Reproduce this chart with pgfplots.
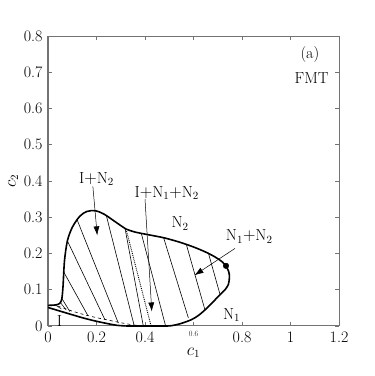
\documentclass[border=0pt]{standalone}
\usepackage{pgfplots}
\pgfplotsset{compat=1.18}
\usetikzlibrary{arrows.meta}
\definecolor{axgray}{gray}{0.45}
\begin{document}
\fontsize{16}{19}\selectfont
\begin{tikzpicture}[font=\fontsize{16}{19}\selectfont]
\begin{axis}[
    scale only axis,
    width=291pt, height=290pt,
    xmin=0, xmax=1.2, ymin=0, ymax=0.8,
    xtick={0,0.2,0.4,0.6,0.8,1,1.2},
    xticklabels={0,0.2,0.4,{\scalebox{0.5}{0.6}},0.8,1,1.2},
    ytick={0,0.1,0.2,0.3,0.4,0.5,0.6,0.7,0.8},
    yticklabels={0,0.1,0.2,0.3,0.4,0.5,0.6,0.7,0.8},
    tick label style={font=\fontsize{16}{19}\selectfont},
    label style={font=\fontsize{16}{19}\selectfont},
    tick align=inside,
    major tick length=4pt,
    axis line style={axgray, line width=1pt},
    tick style={axgray, line width=0.6pt},
    xlabel={$c_1$}, ylabel={$c_2$},
    xlabel style={at={(axis description cs:0.5,-0.093)}, anchor=center},
    ylabel style={at={(axis description cs:-0.12,0.5)}, anchor=center},
    unbounded coords=jump,
    clip=false,
]
% tie lines
\addplot[black, line width=0.6pt] coordinates {
    (0.058,0.075) (0.090,0.040) (nan,nan)
    (0.064,0.150) (0.165,0.028) (nan,nan)
    (0.082,0.232) (0.235,0.017) (nan,nan)
    (0.120,0.293) (0.290,0.008) (nan,nan)
    (0.240,0.306) (0.355,0.002) (nan,nan)
    (0.318,0.268) (0.393,0.000) (nan,nan)
    (0.385,0.255) (0.485,0.000) (nan,nan)
    (0.476,0.245) (0.579,0.022) (nan,nan)
    (0.570,0.226) (0.647,0.045) (nan,nan)
    (0.661,0.202) (0.709,0.088)
};
% short lines near the corner
\addplot[black, line width=0.5pt] coordinates {
    (0.030,0.058) (0.055,0.047) (nan,nan)
    (0.052,0.064) (0.075,0.044)
};
% dotted line
\addplot[black, densely dotted, line width=0.9pt] coordinates {
    (0.324,0.262) (0.425,0.000)
};
% dashed line
\addplot[black, dashed, line width=0.6pt] coordinates {
    (0.040,0.055) (0.100,0.041) (0.150,0.031) (0.200,0.023)
    (0.250,0.016) (0.300,0.009) (0.350,0.003) (0.393,0.000)
};
% outer boundary
\addplot[black, line width=1.6pt, smooth, tension=0.5] coordinates {
    (0,0.057) (0.030,0.058) (0.048,0.062) (0.057,0.075) (0.062,0.110)
    (0.068,0.180) (0.080,0.235) (0.100,0.272) (0.130,0.302) (0.160,0.316)
    (0.195,0.318) (0.230,0.309) (0.270,0.291) (0.300,0.277) (0.320,0.268)
    (0.360,0.259) (0.420,0.251) (0.480,0.243) (0.544,0.231) (0.600,0.218)
    (0.650,0.204) (0.690,0.190) (0.720,0.176) (0.737,0.162) (0.746,0.148)
    (0.748,0.134) (0.744,0.115) (0.730,0.100) (0.710,0.087) (0.680,0.066)
    (0.650,0.046) (0.620,0.029) (0.590,0.017) (0.544,0.006) (0.510,0.001)
    (0.490,0.000)
};
\addplot[black, line width=1.6pt, smooth, tension=0.5] coordinates {
    (0,0.051) (0.050,0.041) (0.100,0.031) (0.146,0.022) (0.200,0.013)
    (0.250,0.006) (0.283,0.002) (0.320,0.000)
};
\addplot[black, line width=1.6pt] coordinates {(0.320,0.000) (0.490,0.000)};
% critical point
\addplot[black, only marks, mark=*, mark size=2.8pt] coordinates {(0.734,0.166)};

% labels and arrows
\node at (axis cs:0.200,0.405) {I$+$N$_2$};
\draw[-{Latex[length=9pt,width=6pt]}, line width=0.5pt] (axis cs:0.185,0.385) -- (axis cs:0.203,0.250);
\node at (axis cs:0.490,0.367) {I$+$N$_1$$+$N$_2$};
\draw[-{Latex[length=9pt,width=6pt]}, line width=0.5pt] (axis cs:0.400,0.350) -- (axis cs:0.428,0.040);
\node at (axis cs:0.545,0.283) {N$_2$};
\node at (axis cs:0.830,0.246) {N$_1$$+$N$_2$};
\draw[-{Latex[length=9pt,width=6pt]}, line width=0.5pt] (axis cs:0.771,0.214) -- (axis cs:0.604,0.140);
\node at (axis cs:0.757,0.030) {N$_1$};
\node at (axis cs:0.047,0.014) {I};
\node at (axis cs:1.080,0.748) {(a)};
\node at (axis cs:1.087,0.683) {FMT};
\coordinate (ll) at (rel axis cs:0,0);
\coordinate (ur) at (rel axis cs:1,1);
\end{axis}
\path (ll) ++(-48pt,-50pt) coordinate (bl);
\path (ur) ++(35pt,36pt) coordinate (tr);
\path[use as bounding box] (bl) rectangle (tr);
\end{tikzpicture}
\end{document}
